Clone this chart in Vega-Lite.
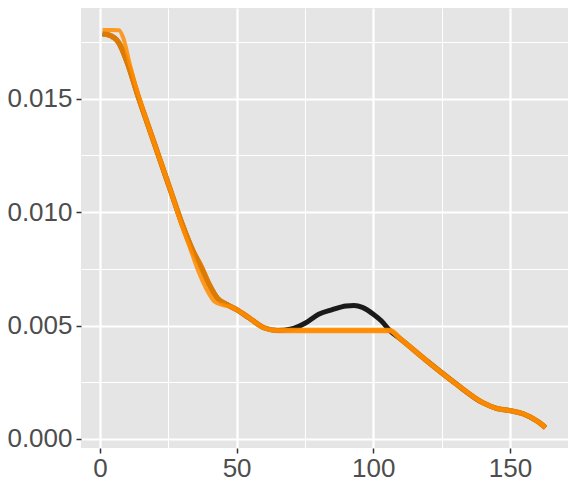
{
  "$schema": "https://vega.github.io/schema/vega-lite/v6.json",
  "width": 487,
  "height": 440,
  "autosize": {"type": "none"},
  "padding": {"left": 81, "top": 8, "right": 7, "bottom": 39},
  "background": "white",
  "config": {
    "view": {"fill": "#E5E5E5", "stroke": null},
    "axis": {
      "labelFont": "Liberation Sans",
      "labelFontSize": 26,
      "labelColor": "#4D4D4D",
      "tickColor": "#333333",
      "tickWidth": 1.5,
      "tickSize": 5,
      "domain": false,
      "title": null,
      "gridColor": "white"
    }
  },
  "datasets": {
    "black": [
      {"x": 1, "y": 0.01786}, {"x": 4, "y": 0.01778}, {"x": 7, "y": 0.01745}, {"x": 10, "y": 0.0166},
      {"x": 14, "y": 0.0151}, {"x": 18, "y": 0.0137}, {"x": 22, "y": 0.0123}, {"x": 26, "y": 0.0109},
      {"x": 30, "y": 0.0095}, {"x": 34, "y": 0.0083}, {"x": 37, "y": 0.0076}, {"x": 40, "y": 0.0068},
      {"x": 43, "y": 0.0062}, {"x": 46, "y": 0.00595}, {"x": 50, "y": 0.0057}, {"x": 55, "y": 0.0053},
      {"x": 60, "y": 0.0049}, {"x": 65, "y": 0.00478}, {"x": 70, "y": 0.00485}, {"x": 75, "y": 0.0051},
      {"x": 80, "y": 0.0055}, {"x": 85, "y": 0.0057}, {"x": 90, "y": 0.00586}, {"x": 93, "y": 0.00588},
      {"x": 96, "y": 0.0058}, {"x": 100, "y": 0.0055}, {"x": 103, "y": 0.0052}, {"x": 106, "y": 0.00478},
      {"x": 110, "y": 0.0044}, {"x": 120, "y": 0.0034}, {"x": 130, "y": 0.00245}, {"x": 140, "y": 0.0016},
      {"x": 145, "y": 0.00135}, {"x": 150, "y": 0.00125}, {"x": 155, "y": 0.0011}, {"x": 160, "y": 0.00078},
      {"x": 163, "y": 0.0005}
    ],
    "orangeA": [
      {"x": 1, "y": 0.01786}, {"x": 4, "y": 0.01778}, {"x": 7, "y": 0.01745}, {"x": 10, "y": 0.0166},
      {"x": 14, "y": 0.0151}, {"x": 18, "y": 0.0137}, {"x": 22, "y": 0.0123}, {"x": 26, "y": 0.0109},
      {"x": 30, "y": 0.0095}, {"x": 34, "y": 0.0083}, {"x": 37, "y": 0.0076}, {"x": 40, "y": 0.0068},
      {"x": 43, "y": 0.0062}, {"x": 46, "y": 0.00595}, {"x": 50, "y": 0.0057}, {"x": 55, "y": 0.0053},
      {"x": 60, "y": 0.0049}, {"x": 65, "y": 0.00478}, {"x": 85, "y": 0.00478}, {"x": 106, "y": 0.00478},
      {"x": 110, "y": 0.0044}, {"x": 120, "y": 0.0034}, {"x": 130, "y": 0.00245}, {"x": 140, "y": 0.0016},
      {"x": 145, "y": 0.00135}, {"x": 150, "y": 0.00125}, {"x": 155, "y": 0.0011}, {"x": 160, "y": 0.00078},
      {"x": 163, "y": 0.0005}
    ],
    "orangeB": [
      {"x": 1, "y": 0.01803}, {"x": 4, "y": 0.01803}, {"x": 7, "y": 0.01802}, {"x": 8.5, "y": 0.0177},
      {"x": 11, "y": 0.0165}, {"x": 14.5, "y": 0.015}, {"x": 18, "y": 0.0137}, {"x": 22, "y": 0.0123},
      {"x": 26, "y": 0.0109}, {"x": 30, "y": 0.0094}, {"x": 33, "y": 0.0084}, {"x": 36, "y": 0.0074},
      {"x": 39, "y": 0.0066}, {"x": 42, "y": 0.00605}, {"x": 45, "y": 0.0059}, {"x": 48, "y": 0.00582},
      {"x": 50, "y": 0.0057}, {"x": 55, "y": 0.0053}, {"x": 60, "y": 0.0049}, {"x": 65, "y": 0.00478},
      {"x": 85, "y": 0.00478}, {"x": 106, "y": 0.00478}, {"x": 110, "y": 0.0044}, {"x": 120, "y": 0.0034},
      {"x": 130, "y": 0.00245}, {"x": 140, "y": 0.0016}, {"x": 145, "y": 0.00135}, {"x": 150, "y": 0.00125},
      {"x": 155, "y": 0.0011}, {"x": 160, "y": 0.00078}, {"x": 163, "y": 0.0005}
    ]
  },
  "encoding": {
    "x": {
      "field": "x", "type": "quantitative",
      "scale": {"domain": [-6.9, 171.2], "nice": false, "zero": false},
      "axis": {
        "values": [0, 25, 50, 75, 100, 125, 150],
        "grid": true,
        "gridWidth": {"condition": {"test": "datum.value % 50 === 0", "value": 2.2}, "value": 1},
        "tickOpacity": {"condition": {"test": "datum.value % 50 === 0", "value": 1}, "value": 0},
        "labelExpr": "datum.value % 50 === 0 ? datum.label : ''",
        "labelPadding": 2
      }
    },
    "y": {
      "field": "y", "type": "quantitative",
      "scale": {"domain": [-0.0004, 0.019], "nice": false, "zero": false},
      "axis": {
        "values": [0, 0.0025, 0.005, 0.0075, 0.01, 0.0125, 0.015, 0.0175],
        "format": ".3f",
        "grid": true,
        "gridWidth": {"condition": {"test": "round(datum.value*2000) % 10 === 0", "value": 2.2}, "value": 1},
        "tickOpacity": {"condition": {"test": "round(datum.value*2000) % 10 === 0", "value": 1}, "value": 0},
        "labelExpr": "round(datum.value*2000) % 10 === 0 ? datum.label : ''",
        "labelPadding": 4
      }
    }
  },
  "layer": [
    {
      "data": {"name": "black"},
      "mark": {"type": "line", "color": "#1A1A1A", "strokeWidth": 5, "interpolate": "monotone"}
    },
    {
      "data": {"name": "orangeA"},
      "mark": {"type": "line", "color": "#FF8C00", "strokeWidth": 5.5, "opacity": 0.85, "interpolate": "monotone"}
    },
    {
      "data": {"name": "orangeB"},
      "mark": {"type": "line", "color": "#FF8C00", "strokeWidth": 4, "opacity": 0.85, "interpolate": "monotone"}
    }
  ]
}
